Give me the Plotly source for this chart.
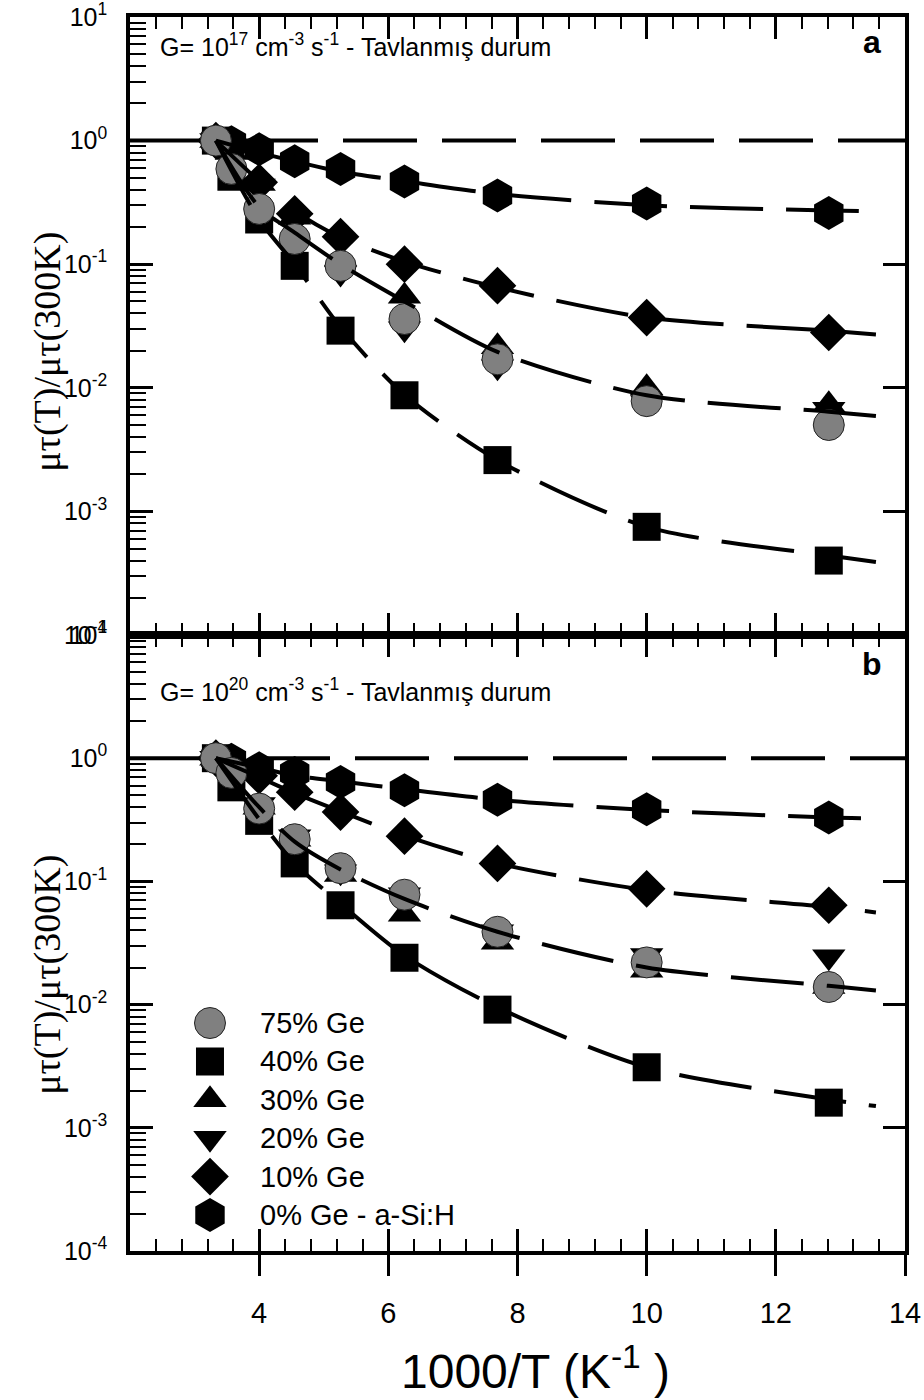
import plotly.graph_objects as go

# ---------------------------------------------------------------------------
# Measurement temperatures, 1000/T (K^-1)
inv_T = [3.33, 3.57, 4.00, 4.55, 5.26, 6.25, 7.69, 10.00, 12.82]

# Normalised values, panel (a): G = 1e17 cm^-3 s^-1, annealed state
a_ge75 = [1.0, 0.59, 0.28, 0.16, 0.097, 0.036, 0.017, 0.0078, 0.0050]
a_ge40 = [1.0, 0.51, 0.23, 0.097, 0.029, 0.0087, 0.0026, 0.00075, 0.00040]
a_ge30 = [1.0, 0.80, 0.45, 0.24, 0.11, 0.055, 0.0215, 0.0100, 0.0073]
a_ge20 = [1.0, 0.75, 0.43, 0.22, 0.085, 0.030, 0.0148, 0.0076, 0.0067]
a_ge10 = [1.0, 0.90, 0.46, 0.256, 0.167, 0.100, 0.067, 0.037, 0.028]
a_ge0 = [1.0, 0.97, 0.85, 0.68, 0.59, 0.466, 0.36, 0.31, 0.26]

# Normalised values, panel (b): G = 1e20 cm^-3 s^-1, annealed state
b_ge75 = [1.0, 0.76, 0.39, 0.22, 0.128, 0.078, 0.039, 0.022, 0.0139]
b_ge40 = [1.0, 0.58, 0.31, 0.14, 0.064, 0.024, 0.0091, 0.0031, 0.0016]
b_ge30 = [1.0, 0.85, 0.40, 0.22, 0.114, 0.054, 0.032, 0.019, 0.014]
b_ge20 = [1.0, 0.85, 0.42, 0.23, 0.120, 0.078, 0.039, 0.025, 0.0245]
b_ge10 = [1.0, 0.90, 0.72, 0.53, 0.365, 0.233, 0.140, 0.087, 0.064]
b_ge0 = [1.0, 0.97, 0.83, 0.76, 0.64, 0.55, 0.46, 0.385, 0.33]

# Guide curves drawn through the data
fit_x = [3.33, 4.00, 4.55, 5.26, 6.25, 7.69, 10.00, 12.82, 13.55]
a_fit_ge0 = [1.0, 0.80, 0.68, 0.56, 0.47, 0.37, 0.30, 0.272, 0.268]
a_fit_ge10 = [1.0, 0.47, 0.27, 0.165, 0.105, 0.065, 0.037, 0.029, 0.027]
a_fit_ge75 = [1.0, 0.29, 0.18, 0.10, 0.050, 0.0195, 0.0087, 0.0064, 0.0059]
a_fit_ge40 = [1.0, 0.23, 0.10, 0.031, 0.0088, 0.0026, 0.00075, 0.00044, 0.00039]
b_fit_ge0 = [1.0, 0.84, 0.72, 0.65, 0.56, 0.46, 0.38, 0.33, 0.325]
b_fit_ge10 = [1.0, 0.70, 0.52, 0.37, 0.235, 0.14, 0.085, 0.062, 0.056]
b_fit_ge75 = [1.0, 0.40, 0.21, 0.125, 0.072, 0.039, 0.020, 0.0142, 0.013]
b_fit_ge40 = [1.0, 0.32, 0.14, 0.066, 0.025, 0.0095, 0.0031, 0.0017, 0.0015]

# Normalisation level (value at 300 K)
ref_x = [2, 14]
ref_y = [1, 1]

series_labels = ["75% Ge", "40% Ge", "30% Ge", "20% Ge", "10% Ge", "0% Ge - a-Si:H"]
legend_rows = [0, 1, 2, 3, 4, 5]

x_tick_vals = [4, 6, 8, 10, 12, 14]
y_tick_vals = [1e-4, 1e-3, 1e-2, 1e-1, 1e0, 1e1]
y_tick_text = ["10<sup>-4</sup>", "10<sup>-3</sup>", "10<sup>-2</sup>",
               "10<sup>-1</sup>", "10<sup>0</sup>", "10<sup>1</sup>"]

# ---------------------------------------------------------------------------
SANS = "Liberation Sans, Arial, sans-serif"
SERIF = "Liberation Serif, Times New Roman, serif"

styles = {
    "75% Ge": dict(symbol="circle", size=31, color="#808080", line=dict(color="#222222", width=1)),
    "40% Ge": dict(symbol="square", size=28, color="black", line=dict(width=0)),
    "30% Ge": dict(symbol="triangle-up", size=29, color="black", line=dict(width=0)),
    "20% Ge": dict(symbol="triangle-down", size=29, color="black", line=dict(width=0)),
    "10% Ge": dict(symbol="diamond", size=29, color="black", line=dict(width=0)),
    "0% Ge - a-Si:H": dict(symbol="hexagon", size=34, color="black", line=dict(width=0)),
}

panel_a = dict(zip(series_labels, [a_ge75, a_ge40, a_ge30, a_ge20, a_ge10, a_ge0]))
panel_b = dict(zip(series_labels, [b_ge75, b_ge40, b_ge30, b_ge20, b_ge10, b_ge0]))
fits_a = [a_fit_ge0, a_fit_ge10, a_fit_ge75, a_fit_ge40]
fits_b = [b_fit_ge0, b_fit_ge10, b_fit_ge75, b_fit_ge40]

# drawing order: hexagons at the back, grey circles in front
draw_order = ["0% Ge - a-Si:H", "10% Ge", "20% Ge", "30% Ge", "40% Ge", "75% Ge"]

CURVE_DASH = "73px,23px"
REF_DASH_A = "89px,25px" + ",74px,25px" * 8
REF_DASH_B = "101px,25px" + ",74px,25px" * 8

fig = go.Figure()

def add_panel(xa, ya, data, fits, ref_dash):
    fig.add_trace(go.Scatter(x=ref_x, y=ref_y, mode="lines", xaxis=xa, yaxis=ya,
                             line=dict(color="black", width=4, dash=ref_dash),
                             showlegend=False, hoverinfo="skip"))
    for name in draw_order:
        st = styles[name]
        fig.add_trace(go.Scatter(
            x=inv_T, y=data[name], mode="markers", name=name, xaxis=xa, yaxis=ya,
            marker=dict(symbol=st["symbol"], size=st["size"], color=st["color"], line=st["line"]),
            showlegend=False))
    for f in fits:
        fig.add_trace(go.Scatter(x=fit_x, y=f, mode="lines", xaxis=xa, yaxis=ya,
                                 line=dict(color="black", width=4, dash=CURVE_DASH,
                                           shape="spline", smoothing=0.8),
                                 showlegend=False, hoverinfo="skip"))

add_panel("x2", "y2", panel_a, fits_a, REF_DASH_A)
add_panel("x", "y", panel_b, fits_b, REF_DASH_B)

# placeholder traces so the overlay axes (right border, outer ticks) are drawn
for xa, ya in [("x3", "y"), ("x", "y3"), ("x2", "y4")]:
    fig.add_trace(go.Scatter(x=[None], y=[None], xaxis=xa, yaxis=ya,
                             showlegend=False, hoverinfo="skip"))

# legend keys
for i, name in zip(legend_rows, series_labels):
    st = styles[name]
    fig.add_trace(go.Scatter(
        x=[0], y=[i], mode="markers", xaxis="x4", yaxis="y5",
        marker=dict(symbol=st["symbol"], size=st["size"], color=st["color"], line=st["line"]),
        showlegend=False, hoverinfo="skip"))

# ---------------------------------------------------------------------------
W, H = 924, 1400
ML, MR, MT, MB = 130, 19, 17, 149
SPLIT = 0.4992

minor_logs = [m * 10.0 ** e for e in range(-4, 1) for m in range(2, 10)]

def x_axis(anchor, labels=False):
    return dict(
        anchor=anchor, domain=[0, 1], range=[2, 14], showgrid=False, zeroline=False,
        showline=True, linecolor="black", linewidth=3.5, mirror="ticks",
        tickmode="array", tickvals=x_tick_vals, ticks="inside", ticklen=22, tickwidth=3,
        tickcolor="black", showticklabels=labels, automargin=False,
        minor=dict(ticks="inside", ticklen=12, tickwidth=2, tickcolor="black",
                   tickmode="linear", tick0=2, dtick=0.4, showgrid=False),
    )

def y_axis(domain, anchor):
    return dict(
        anchor=anchor, domain=domain, type="log", range=[-4, 1], showgrid=False,
        zeroline=False, showline=True, linecolor="black", linewidth=3.5, mirror=False,
        tickmode="array", tickvals=y_tick_vals, ticktext=y_tick_text,
        ticks="inside", ticklen=23, tickwidth=3, tickcolor="black",
        tickfont=dict(family=SANS, size=25, color="black"), ticklabelstandoff=14,
        ticklabeloverflow="allow", automargin=False,
        minor=dict(ticks="inside", ticklen=16, tickwidth=2, tickcolor="black",
                   tickmode="array", tickvals=minor_logs, showgrid=False),
    )

def y_right(over, anchor):
    return dict(
        overlaying=over, anchor=anchor, side="right", type="log", range=[-4, 1],
        showgrid=False, zeroline=False, showline=True, linecolor="black", linewidth=3.5,
        tickmode="array", tickvals=y_tick_vals, ticks="inside", ticklen=22, tickwidth=3,
        tickcolor="black", showticklabels=False, automargin=False,
    )

fig.update_layout(
    width=W, height=H, margin=dict(l=ML, r=MR, t=MT, b=MB, autoexpand=False),
    paper_bgcolor="white", plot_bgcolor="rgba(0,0,0,0)",
    showlegend=False,
    xaxis=x_axis("y"),
    xaxis2=x_axis("y2"),
    xaxis3=dict(overlaying="x", anchor="y", side="bottom", range=[2, 14],
                showgrid=False, zeroline=False, showline=False, automargin=False,
                tickmode="array", tickvals=x_tick_vals, ticks="outside", ticklen=24,
                tickwidth=3, tickcolor="black", ticklabelstandoff=12,
                tickfont=dict(family=SANS, size=29, color="black")),
    xaxis4=dict(anchor="y5", domain=[0.0774, 0.129], range=[-1, 1], visible=False),
    yaxis=y_axis([0, SPLIT], "x"),
    yaxis2=y_axis([SPLIT, 1], "x2"),
    yaxis3=y_right("y", "x"),
    yaxis4=y_right("y2", "x2"),
    yaxis5=dict(anchor="x4", domain=[0.0136, 0.2003], range=[5.5, -0.5], visible=False),
)

ann = []
ann.append(dict(xref="paper", yref="paper", x=0.036, y=0.977, xanchor="left", yanchor="middle",
                text="G= 10<sup>17</sup> cm<sup>-3</sup> s<sup>-1</sup> - Tavlanmış durum",
                showarrow=False, font=dict(family=SANS, size=25, color="black")))
ann.append(dict(xref="paper", yref="paper", x=0.036, y=0.4546, xanchor="left", yanchor="middle",
                text="G= 10<sup>20</sup> cm<sup>-3</sup> s<sup>-1</sup> - Tavlanmış durum",
                showarrow=False, font=dict(family=SANS, size=25, color="black")))
ann.append(dict(xref="paper", yref="paper", x=0.957, y=0.98, xanchor="center", yanchor="middle",
                text="<b>a</b>", showarrow=False, font=dict(family=SANS, size=32, color="black")))
ann.append(dict(xref="paper", yref="paper", x=0.957, y=0.4757, xanchor="center", yanchor="middle",
                text="<b>b</b>", showarrow=False, font=dict(family=SANS, size=32, color="black")))
ann.append(dict(xref="paper", yref="paper", x=0.5226, y=-0.0948, xanchor="center", yanchor="middle",
                text="1000/T (K<sup>-1</sup> )", showarrow=False,
                font=dict(family=SANS, size=48, color="black")))
for yc in (0.7286, 0.2237):
    ann.append(dict(xref="paper", yref="paper", x=-0.106, y=yc, xanchor="center", yanchor="middle",
                    text="μτ(T)/μτ(300K)", textangle=-90, showarrow=False,
                    font=dict(family=SERIF, size=38, color="black")))
for i, name in zip(legend_rows, series_labels):
    ann.append(dict(xref="x4", yref="y5", x=0, y=i, xanchor="left", yanchor="middle",
                    xshift=48, text=name, showarrow=False,
                    font=dict(family=SANS, size=29, color="black")))
fig.update_layout(annotations=ann)

fig.write_html("out.html")
